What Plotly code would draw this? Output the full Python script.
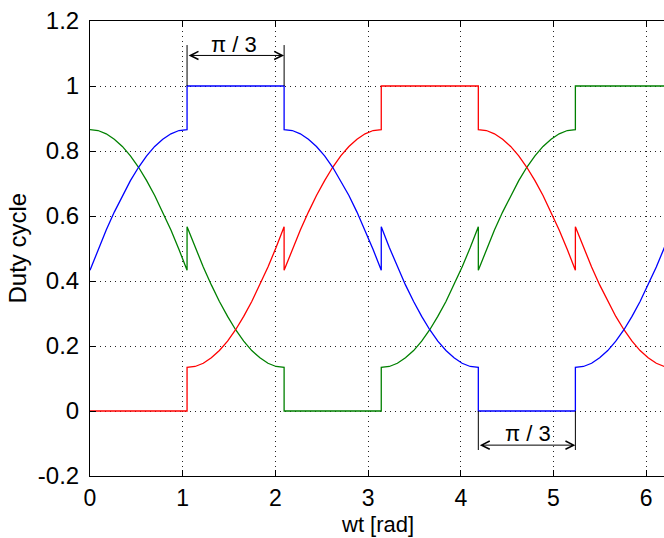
import plotly.graph_objects as go

# angle wt [rad], 5-degree steps, each 60-degree segment listed with both ends
wt = [
    0.000, 0.087, 0.175, 0.262, 0.349, 0.436, 0.524, 0.611, 0.698, 0.785, 0.873, 0.960, 1.047,
    1.047, 1.134, 1.222, 1.309, 1.396, 1.484, 1.571, 1.658, 1.745, 1.833, 1.920, 2.007, 2.094,
    2.094, 2.182, 2.269, 2.356, 2.443, 2.531, 2.618, 2.705, 2.793, 2.880, 2.967, 3.054, 3.142,
    3.142, 3.229, 3.316, 3.403, 3.491, 3.578, 3.665, 3.752, 3.840, 3.927, 4.014, 4.102, 4.189,
    4.189, 4.276, 4.363, 4.451, 4.538, 4.625, 4.712, 4.800, 4.887, 4.974, 5.061, 5.149, 5.236,
    5.236, 5.323, 5.411, 5.498, 5.585, 5.672, 5.760, 5.847, 5.934, 6.021, 6.109, 6.196, 6.283,
]

duty_blue = [
    0.433, 0.497, 0.557, 0.612, 0.663, 0.709, 0.750, 0.785, 0.814, 0.836, 0.853, 0.863, 0.866,
    1.000, 1.000, 1.000, 1.000, 1.000, 1.000, 1.000, 1.000, 1.000, 1.000, 1.000, 1.000, 1.000,
    0.866, 0.863, 0.853, 0.836, 0.814, 0.785, 0.750, 0.709, 0.663, 0.612, 0.557, 0.497, 0.433,
    0.567, 0.503, 0.443, 0.388, 0.337, 0.291, 0.250, 0.215, 0.186, 0.164, 0.147, 0.137, 0.134,
    0.000, 0.000, 0.000, 0.000, 0.000, 0.000, 0.000, 0.000, 0.000, 0.000, 0.000, 0.000, 0.000,
    0.134, 0.137, 0.147, 0.164, 0.186, 0.215, 0.250, 0.291, 0.337, 0.388, 0.443, 0.503, 0.567,
]

duty_red = [
    0.000, 0.000, 0.000, 0.000, 0.000, 0.000, 0.000, 0.000, 0.000, 0.000, 0.000, 0.000, 0.000,
    0.134, 0.137, 0.147, 0.164, 0.186, 0.215, 0.250, 0.291, 0.337, 0.388, 0.443, 0.503, 0.567,
    0.433, 0.497, 0.557, 0.612, 0.663, 0.709, 0.750, 0.785, 0.814, 0.836, 0.853, 0.863, 0.866,
    1.000, 1.000, 1.000, 1.000, 1.000, 1.000, 1.000, 1.000, 1.000, 1.000, 1.000, 1.000, 1.000,
    0.866, 0.863, 0.853, 0.836, 0.814, 0.785, 0.750, 0.709, 0.663, 0.612, 0.557, 0.497, 0.433,
    0.567, 0.503, 0.443, 0.388, 0.337, 0.291, 0.250, 0.215, 0.186, 0.164, 0.147, 0.137, 0.134,
]

duty_green = [
    0.866, 0.863, 0.853, 0.836, 0.814, 0.785, 0.750, 0.709, 0.663, 0.612, 0.557, 0.497, 0.433,
    0.567, 0.503, 0.443, 0.388, 0.337, 0.291, 0.250, 0.215, 0.186, 0.164, 0.147, 0.137, 0.134,
    0.000, 0.000, 0.000, 0.000, 0.000, 0.000, 0.000, 0.000, 0.000, 0.000, 0.000, 0.000, 0.000,
    0.134, 0.137, 0.147, 0.164, 0.186, 0.215, 0.250, 0.291, 0.337, 0.388, 0.443, 0.503, 0.567,
    0.433, 0.497, 0.557, 0.612, 0.663, 0.709, 0.750, 0.785, 0.814, 0.836, 0.853, 0.863, 0.866,
    1.000, 1.000, 1.000, 1.000, 1.000, 1.000, 1.000, 1.000, 1.000, 1.000, 1.000, 1.000, 1.000,
]

x_ticks = [0, 1, 2, 3, 4, 5, 6]
x_tick_labels = ["0", "1", "2", "3", "4", "5", "6"]
y_ticks = [-0.2, 0, 0.2, 0.4, 0.6, 0.8, 1.0, 1.2]
y_tick_labels = ["-0.2", "0", "0.2", "0.4", "0.6", "0.8", "1", "1.2"]

# pi/3 interval markers: (start, end, bracket base, bracket end, arrow level, label x, label y)
pi3_top = (1.047, 2.094, 1.0, 1.126, 1.094, 1.55, 1.128)
pi3_bottom = (4.189, 5.236, 0.0, -0.12, -0.105, 4.73, -0.068)

FONT = "Liberation Sans, Arial, Helvetica, sans-serif"

fig = go.Figure()
for y, col in [(duty_green, "#008000"), (duty_red, "#FF0000"), (duty_blue, "#0000FF")]:
    fig.add_trace(go.Scatter(x=wt, y=y, mode="lines",
                             line=dict(color=col, width=1.3), showlegend=False,
                             hoverinfo="skip"))

annotations = []
shapes = []
for (xa, xb, ybase, ytop, yarr, lx, ly) in [pi3_top, pi3_bottom]:
    for xv in (xa, xb):
        shapes.append(dict(type="line", xref="x", yref="y", x0=xv, x1=xv,
                           y0=ybase, y1=ytop, line=dict(color="black", width=1)))
    annotations.append(dict(x=xb, y=yarr, ax=xa, ay=yarr, xref="x", yref="y",
                            axref="x", ayref="y", text="", showarrow=True,
                            arrowside="end+start", arrowhead=5, startarrowhead=5,
                            arrowsize=1.6, startarrowsize=1.6, arrowwidth=1,
                            arrowcolor="black", standoff=0, startstandoff=0))
    annotations.append(dict(x=lx, y=ly, xref="x", yref="y", text="π / 3",
                            showarrow=False, font=dict(family=FONT, size=22, color="black"),
                            xanchor="center", yanchor="middle"))

annotations.append(dict(x=0, y=0.5, xref="paper", yref="paper", text="Duty cycle",
                        textangle=-90, showarrow=False, xanchor="center", yanchor="middle",
                        xshift=-73, font=dict(family=FONT, size=24, color="black")))
annotations.append(dict(x=0.5, y=0, xref="paper", yref="paper", text="wt [rad]",
                        showarrow=False, xanchor="center", yanchor="bottom", borderpad=0,
                        yshift=-62, font=dict(family=FONT, size=22, color="black")))

fig.update_layout(
    width=664, height=538,
    margin=dict(l=90, r=0, t=21, b=62, pad=0),
    paper_bgcolor="white", plot_bgcolor="white",
    font=dict(family=FONT, size=24, color="black"),
    shapes=shapes, annotations=annotations,
)
fig.update_xaxes(
    range=[0, 6.192], tickvals=x_ticks, ticktext=x_tick_labels,
    tickfont=dict(family=FONT, size=23, color="black"),
    showline=True, linecolor="black", linewidth=1, mirror="ticks",
    ticks="inside", ticklen=6, tickcolor="black",
    showgrid=True, gridcolor="#222222", gridwidth=1, griddash="1px,4px",
    zeroline=False, ticklabelstandoff=1,
)
fig.update_yaxes(
    range=[-0.2, 1.2], tickvals=y_ticks, ticktext=y_tick_labels,
    showline=True, linecolor="black", linewidth=1, mirror=False,
    ticks="inside", ticklen=6, tickcolor="black",
    showgrid=True, gridcolor="#222222", gridwidth=1, griddash="1px,4px",
    zeroline=False, ticklabelstandoff=5,
)

fig.write_html(
    "out.html",
    config={"displayModeBar": False},
    post_script="document.body.style.margin='0';document.body.style.overflow='hidden';",
)
